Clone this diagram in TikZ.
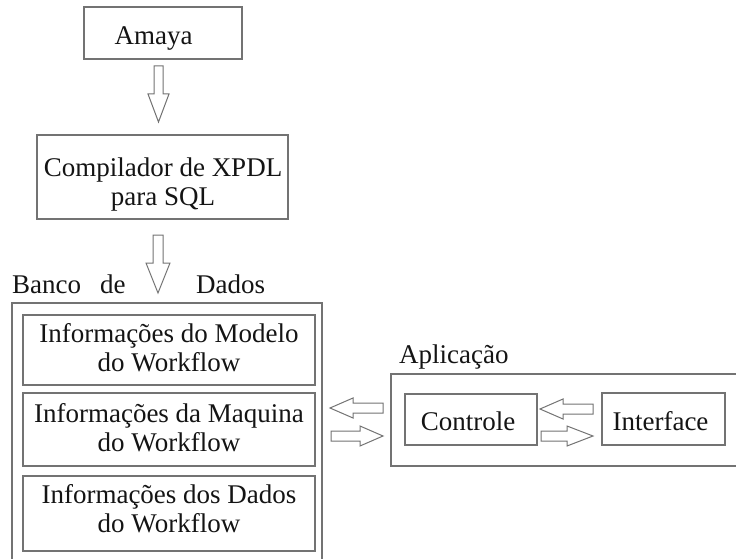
\documentclass[tikz,border=0pt]{standalone}
\usepackage{fontspec}
\setmainfont{Liberation Serif}
\begin{document}
\begin{tikzpicture}[x=1pt,y=1pt,
  box/.style={draw=black!55, line width=1.2pt, inner sep=0pt},
  frame/.style={draw=black!55, line width=1.2pt},
  txt/.style={inner sep=0pt, text=black!92, font=\fontsize{27}{28.5}\selectfont, align=center},
  blk/.style={draw=black!55, line width=1pt, fill=white, line join=miter}]
\useasboundingbox (0,0) rectangle (736,-559);
% boxes
\node[box, minimum width=158, minimum height=52] (amaya) at (163,-33) {};
\node[txt, anchor=base] (amayat) at (153.5,-45) {Amaya};
\node[box, minimum width=251, minimum height=84] (comp) at (162.5,-177) {};
\node[txt, anchor=north] (compt) at (163,-157.6) {Compilador de XPDL\\para SQL};
% database frame
\draw[frame] (12,-559) -- (12,-303) -- (322,-303) -- (322,-559);
\node[txt, anchor=base west] (banco) at (12,-293) {Banco};
\node[txt, anchor=base west] (de) at (100,-293) {de};
\node[txt, anchor=base west] (dados) at (196,-293) {Dados};
\node[box, minimum width=292, minimum height=70] (m1) at (169,-350) {};
\node[txt, anchor=north] (m1t) at (169,-323.6) {Informações do Modelo\\do Workflow};
\node[box, minimum width=292, minimum height=73] (m2) at (169,-429.5) {};
\node[txt, anchor=north] (m2t) at (169,-403.6) {Informações da Maquina\\do Workflow};
\node[box, minimum width=292, minimum height=75] (m3) at (169,-513.5) {};
\node[txt, anchor=north] (m3t) at (169,-484.6) {Informações dos Dados\\do Workflow};
% application frame
\draw[frame] (736,-374) -- (391,-374) -- (391,-466) -- (736,-466);
\node[txt, anchor=base west] (apl) at (399,-363) {Aplicação};
\node[box, minimum width=132, minimum height=51] (ctrl) at (471,-419.5) {};
\node[txt, anchor=base] (ctrlt) at (468,-430) {Controle};
\node[box, minimum width=123, minimum height=52] (intf) at (663.5,-419) {};
\node[txt, anchor=base] (intft) at (660.5,-430) {Interface};
% block arrows down
\draw[blk] (154,-66) -- (163,-66) -- (163,-94) -- (169,-94) -- (158.5,-122) -- (148,-94) -- (154,-94) -- cycle;
\draw[blk] (153,-235) -- (163,-235) -- (163,-263) -- (170,-263) -- (158,-293) -- (146,-263) -- (153,-263) -- cycle;
% block arrows horizontal
\draw[blk] (330,-408) -- (353,-398) -- (353,-403) -- (383,-403) -- (383,-413) -- (353,-413) -- (353,-418) -- cycle;
\draw[blk] (383,-436) -- (360,-426) -- (360,-431) -- (331,-431) -- (331,-441) -- (360,-441) -- (360,-446) -- cycle;
\draw[blk] (540,-409) -- (563,-399) -- (563,-404) -- (593,-404) -- (593,-414) -- (563,-414) -- (563,-419) -- cycle;
\draw[blk] (593,-436) -- (567,-426) -- (567,-431) -- (541,-431) -- (541,-441) -- (567,-441) -- (567,-446) -- cycle;
\end{tikzpicture}
\end{document}
